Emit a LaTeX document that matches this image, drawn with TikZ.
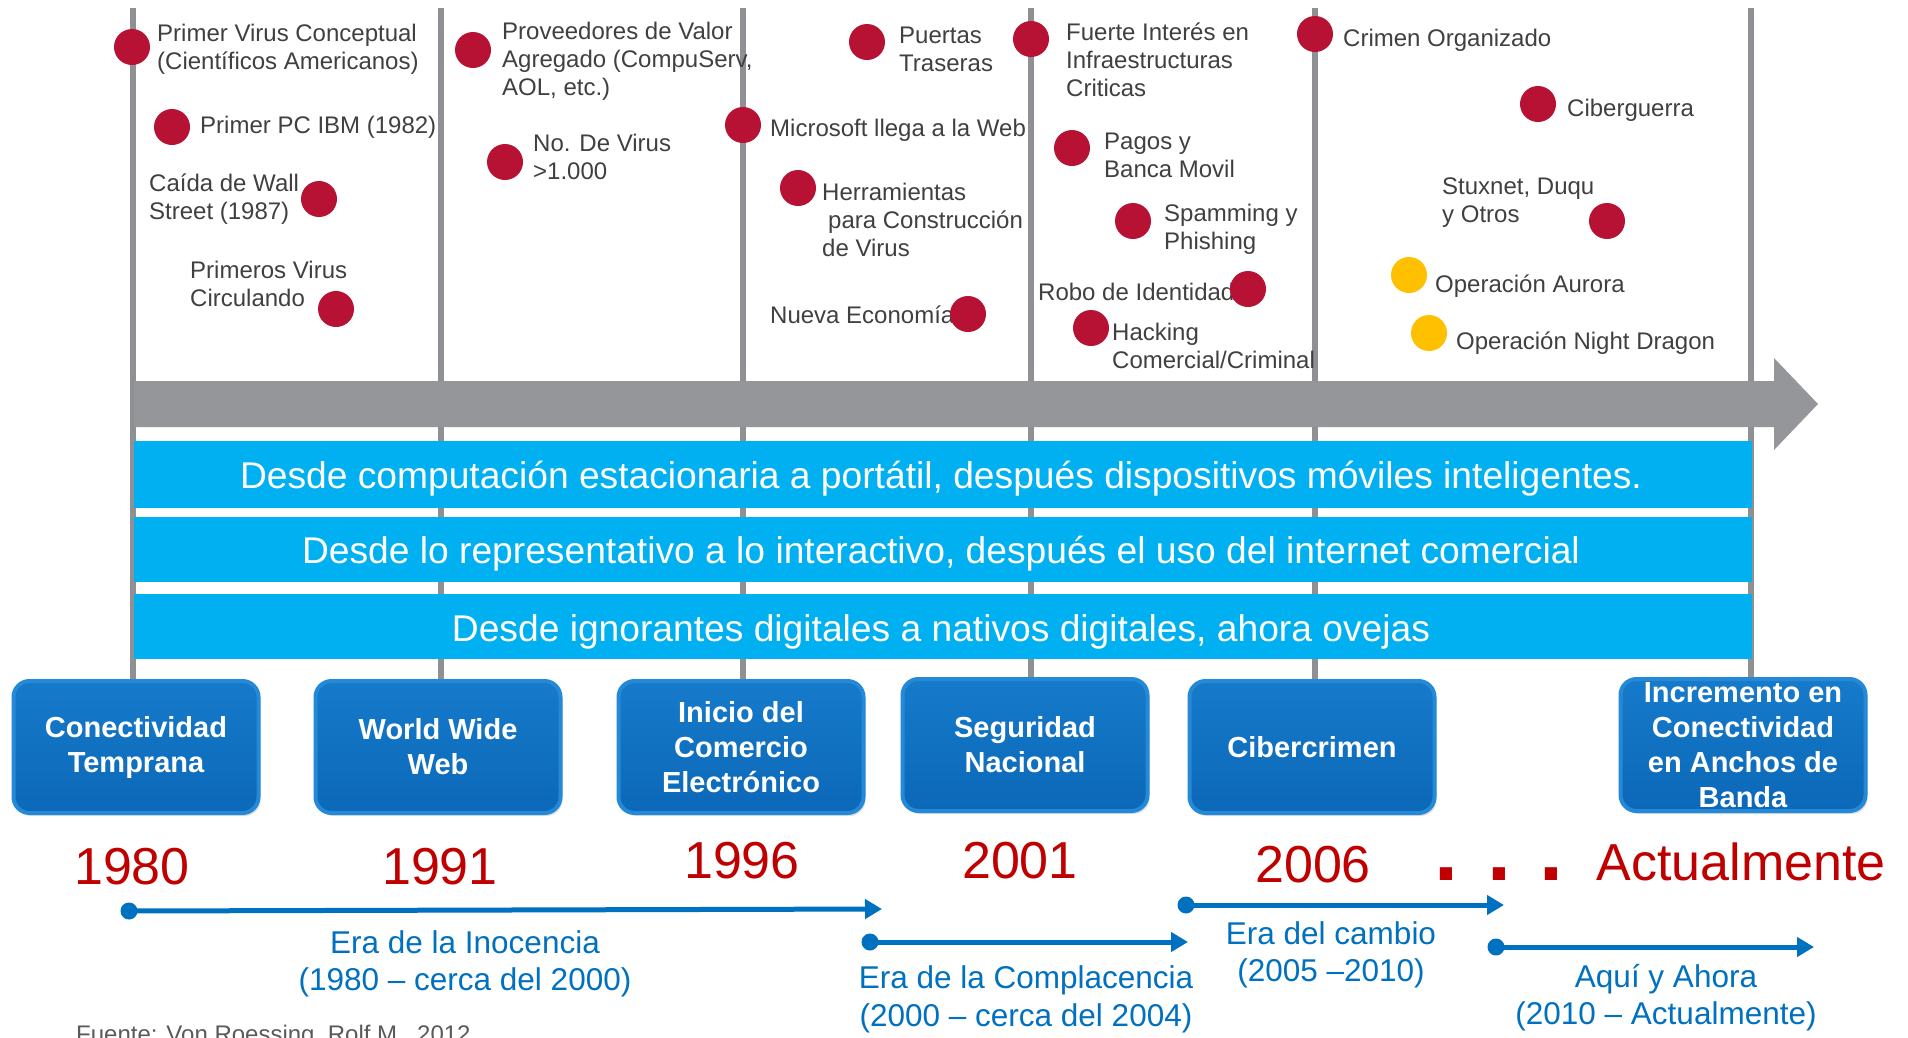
\documentclass[tikz,border=0pt]{standalone}
\usepackage{fontspec}
\setmainfont{Liberation Sans}
\usetikzlibrary{arrows.meta,shadows}
\definecolor{vline}{RGB}{142,144,147}
\definecolor{arrowgray}{RGB}{148,150,153}
\definecolor{bandcyan}{RGB}{0,176,240}
\definecolor{dotred}{RGB}{183,18,52}
\definecolor{dotyellow}{RGB}{255,192,0}
\definecolor{yearred}{RGB}{192,0,0}
\definecolor{labelgray}{RGB}{64,64,64}
\definecolor{erablue}{RGB}{0,112,192}
\definecolor{boxedge}{RGB}{36,138,216}
\definecolor{boxtop}{RGB}{22,122,202}
\definecolor{boxbot}{RGB}{12,104,184}
\definecolor{srcgray}{RGB}{90,90,90}
\begin{document}
\begin{tikzpicture}[x=1pt,y=-1pt,
  vl/.style={draw=vline, line width=6pt},
  bandbox/.style={fill=bandcyan, draw=none, inner sep=0pt, anchor=north west, minimum width=1618pt},
  bandtxt/.style={text=white, font=\fontsize{37.2}{44}\selectfont, anchor=base, inner sep=0pt},
  evdot/.style={circle, fill=dotred, minimum size=36pt, inner sep=0pt},
  evdoty/.style={evdot, fill=dotyellow},
  lbl/.style={text=labelgray, font=\fontsize{24}{28.3}\selectfont, align=left, anchor=base west, inner sep=0pt},
  erabox/.style={rounded corners=16pt, minimum width=245pt, minimum height=132pt, top color=boxtop, bottom color=boxbot, draw=boxedge, line width=4pt, text=white, font=\bfseries\fontsize{29}{35}\selectfont, align=center, inner sep=0pt, drop shadow={opacity=0.25, shadow xshift=2pt, shadow yshift=-3pt}},
  yr/.style={text=yearred, font=\fontsize{52}{60}\selectfont, anchor=base, inner sep=0pt},
  eratxt/.style={text=erablue, font=\fontsize{31.5}{37.5}\selectfont, align=center, anchor=base, inner sep=0pt},
  eradot/.style={circle, fill=erablue, minimum size=17pt, inner sep=0pt},
  eraarrow/.style={draw=erablue, line width=5pt, -{Triangle[length=17pt,width=19pt]}},
]
\useasboundingbox (0,0) rectangle (1908,1037);
\fill[white] (0,0) rectangle (1908,1037);

% category boxes
\node[erabox] (b1) at (136,747) {Conectividad\\Temprana};
\node[erabox] (b2) at (438,747) {World Wide\\Web};
\node[erabox] (b3) at (741,747) {Inicio del\\Comercio\\Electrónico};
\node[erabox] (b4) at (1025,745) {Seguridad\\Nacional};
\node[erabox] (b5) at (1312,747) {Cibercrimen};
\node[erabox] (b6) at (1743,745) {\fontsize{29}{34}\selectfont Incremento en\\Conectividad\\en Anchos de\\Banda};

% vertical lines
\coordinate (t1) at (133,8);
\coordinate (t2) at (441,8);
\coordinate (t3) at (743,8);
\coordinate (t4) at (1031,8);
\coordinate (t5) at (1315,8);
\coordinate (t6) at (1751,8);
\draw[vl] (t1) -- (t1 |- b1.north);
\draw[vl] (t2) -- (t2 |- b2.north);
\draw[vl] (t3) -- (t3 |- b3.north);
\draw[vl] (t4) -- (t4 |- b4.north);
\draw[vl] (t5) -- (t5 |- b5.north);
\draw[vl] (t6) -- (t6 |- b6.north);

% big gray arrow
\fill[arrowgray] (134,381) -- (1774,381) -- (1774,358) -- (1818,404) -- (1774,450) -- (1774,427) -- (134,427) -- cycle;

% cyan bands
\node[bandbox, minimum height=67pt] (band1) at (134,441) {};
\node[bandbox, minimum height=65pt] (band2) at (134,517) {};
\node[bandbox, minimum height=65pt] (band3) at (134,594) {};
\node[bandtxt] (bt1) at (941,488) {Desde computación estacionaria a portátil, después dispositivos móviles inteligentes.};
\node[bandtxt] (bt2) at (941,563) {Desde lo representativo a lo interactivo, después el uso del internet comercial};
\node[bandtxt] (bt3) at (941,641) {Desde ignorantes digitales a nativos digitales, ahora ovejas};

% event labels (anchor = baseline of last line)
\node[lbl] (l1) at (157,69.3) {Primer Virus Conceptual\\(Científicos Americanos)};
\node[lbl] (l2) at (200,133) {Primer PC IBM (1982)};
\node[lbl] (l3) at (149,219.3) {Caída de Wall\\Street (1987)};
\node[lbl] (l4) at (190,306.3) {Primeros Virus\\Circulando};
\node[lbl] (l5) at (502,95.6) {Proveedores de Valor\\Agregado (CompuServ,\\AOL, etc.)};
\node[lbl] (l6) at (533,179.3) {No. De Virus\\>1.000};
\node[lbl] (l7) at (899,71.3) {Puertas\\Traseras};
\node[lbl] (l8) at (770,136) {Microsoft llega a la Web};
\node[lbl] (l9) at (822,256.6) {Herramientas\\\hspace{6pt}para Construcción\\de Virus};
\node[lbl] (l10) at (770,323) {Nueva Economía};
\node[lbl] (l11) at (1066,96.6) {Fuerte Interés en\\Infraestructuras\\Criticas};
\node[lbl] (l12) at (1104,177.3) {Pagos y\\Banca Movil};
\node[lbl] (l13) at (1164,249.3) {Spamming y\\Phishing};
\node[lbl] (l14) at (1038,300) {Robo de Identidad};
\node[lbl] (l15) at (1112,368.3) {Hacking\\Comercial/Criminal};
\node[lbl] (l16) at (1343,46) {Crimen Organizado};
\node[lbl] (l17) at (1567,116) {Ciberguerra};
\node[lbl] (l18) at (1442,222.3) {Stuxnet, Duqu\\y Otros};
\node[lbl] (l19) at (1435,292) {Operación Aurora};
\node[lbl] (l20) at (1456,349) {Operación Night Dragon};

% event dots
\node[evdot] (d1) at (132,47) {};
\node[evdot] (d2) at (172,127) {};
\node[evdot] (d3) at (319,199) {};
\node[evdot] (d4) at (336,309) {};
\node[evdot] (d5) at (473,50) {};
\node[evdot] (d6) at (505,162) {};
\node[evdot] (d7) at (867,42) {};
\node[evdot] (d8) at (743,125) {};
\node[evdot] (d9) at (798,188) {};
\node[evdot] (d10) at (968,314) {};
\node[evdot] (d11) at (1031,39) {};
\node[evdot] (d12) at (1072,148) {};
\node[evdot] (d13) at (1133,221) {};
\node[evdot] (d14) at (1248,289) {};
\node[evdot] (d15) at (1091,328) {};
\node[evdot] (d16) at (1315,34) {};
\node[evdot] (d17) at (1538,104) {};
\node[evdot] (d18) at (1607,221) {};
\node[evdoty] (d19) at (1409,275) {};
\node[evdoty] (d20) at (1429,333) {};

% years
\node[yr] (y1) at (132,884) {1980};
\node[yr] (y2) at (440,884) {1991};
\node[yr] (y3) at (742,878) {1996};
\node[yr] (y4) at (1020,878) {2001};
\node[yr] (y5) at (1313,882) {2006};
\node[yr, font=\bfseries\fontsize{86}{90}\selectfont, anchor=base west] (ell) at (1434,880) {.\hspace{29pt}.\hspace{29pt}.};
\node[yr] (y6) at (1741,880) {Actualmente};

% era arrows
\node[eradot] (s1) at (129,911) {};
\coordinate (e1) at (882,909);
\node[eradot] (s2) at (870,942) {};
\coordinate (e2) at (1188,942);
\node[eradot] (s3) at (1186,905) {};
\coordinate (e3) at (1504,905);
\node[eradot] (s4) at (1496,947) {};
\coordinate (e4) at (1814,947);
\draw[eraarrow] (s1.center) -- (e1);
\draw[eraarrow] (s2.center) -- (e2);
\draw[eraarrow] (s3.center) -- (e3);
\draw[eraarrow] (s4.center) -- (e4);

% era texts (anchor = baseline of last line)
\node[eratxt] (a1) at (465,990.5) {Era de la Inocencia\\(1980 – cerca del 2000)};
\node[eratxt] (a2) at (1026,1026) {Era de la Complacencia\\(2000 – cerca del 2004)};
\node[eratxt] (a3) at (1331,981.5) {Era del cambio\\(2005 –2010)};
\node[eratxt] (a4) at (1666,1024.5) {Aquí y Ahora\\(2010 – Actualmente)};

% source (cut off at the lower edge, as in the original)
\node[text=srcgray, font=\fontsize{24}{28}\selectfont, anchor=base west, inner sep=0pt] (src) at (76,1042) {Fuente: Von Roessing, Rolf M., 2012};
\end{tikzpicture}
\end{document}
